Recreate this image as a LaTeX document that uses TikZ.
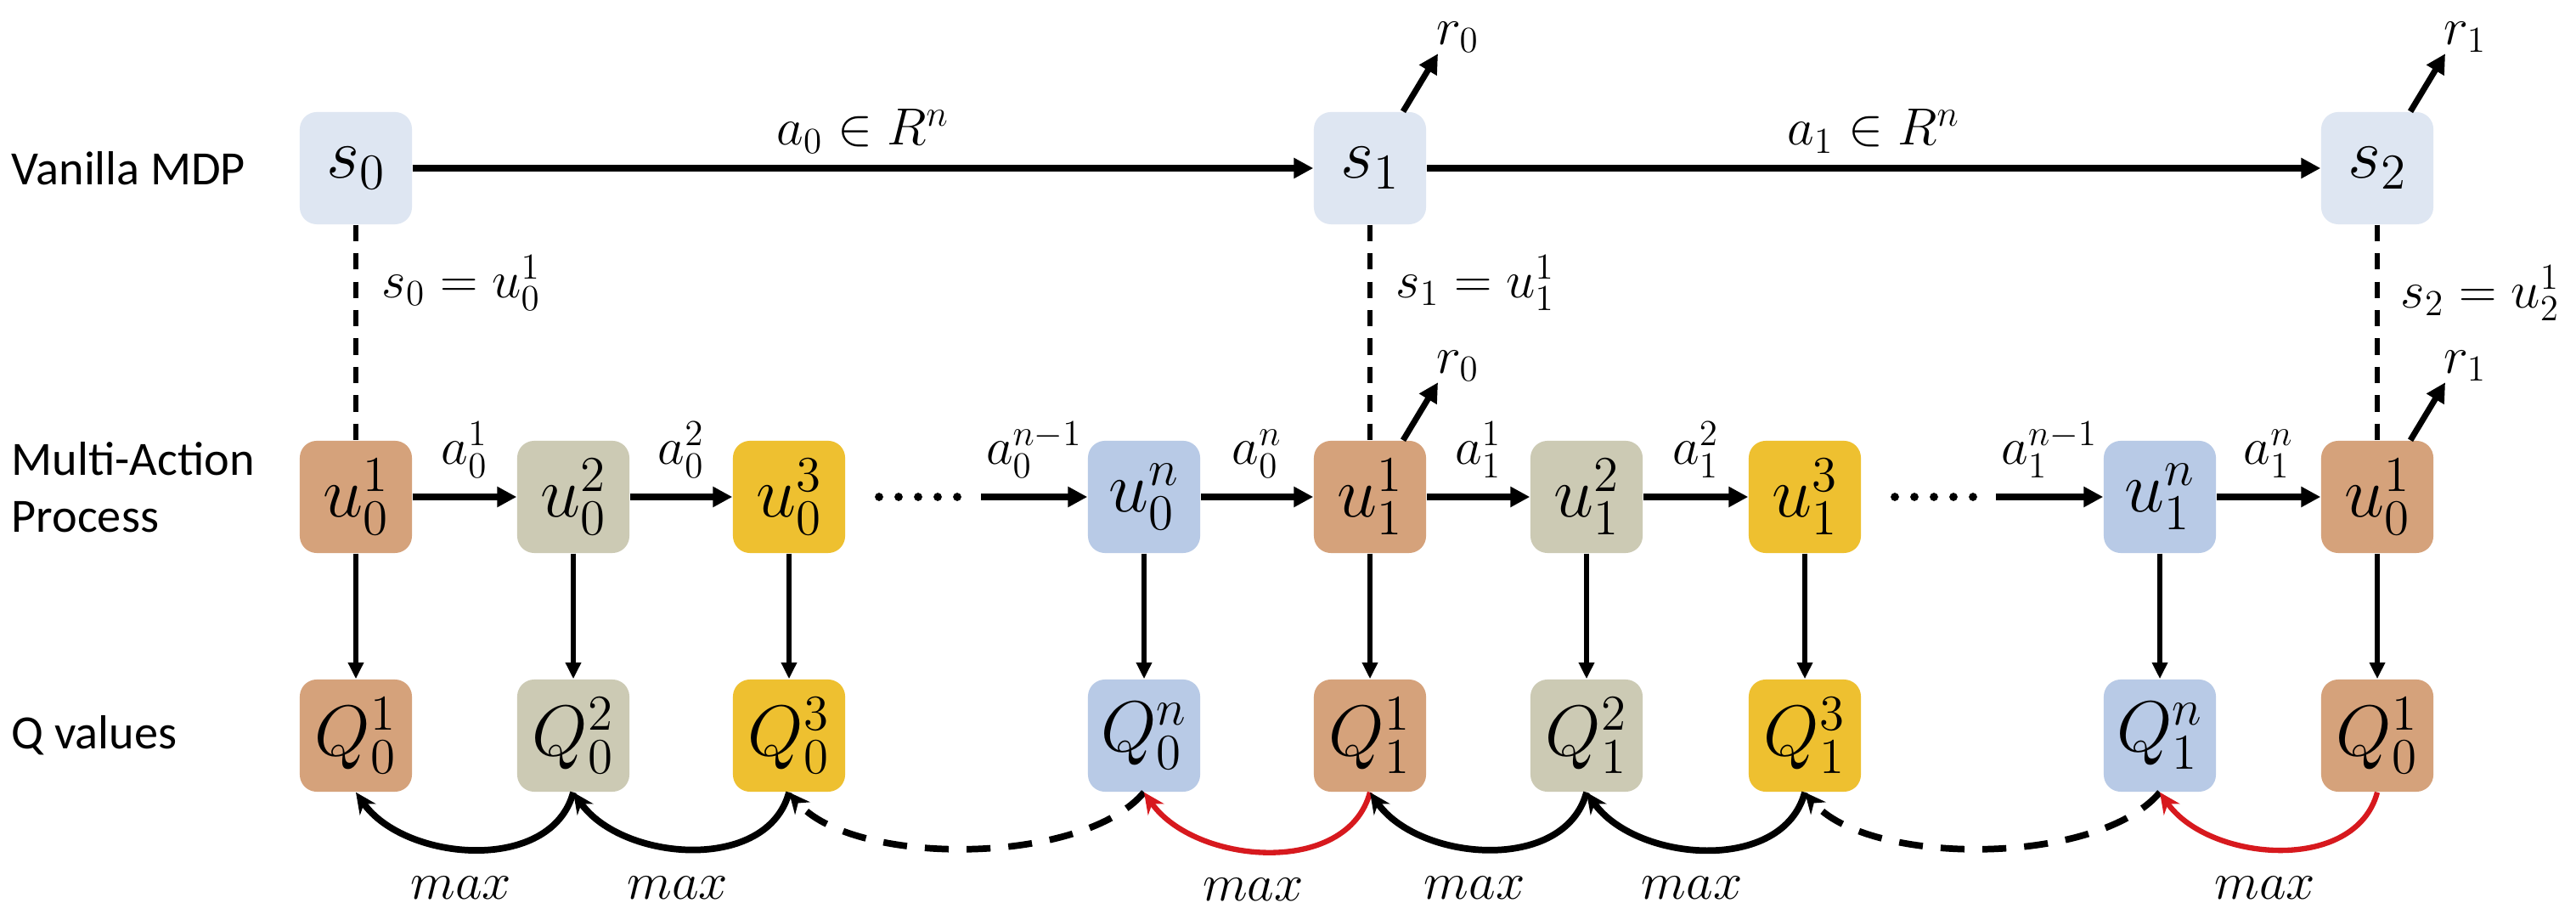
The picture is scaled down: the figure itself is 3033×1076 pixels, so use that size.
\documentclass[tikz,border=0pt]{standalone}
\usepackage{fix-cm}
\usepackage[no-math]{fontspec}
\newfontfamily\labfont{Carlito}
\usetikzlibrary{arrows.meta}
\definecolor{csb}{RGB}{222,230,242}
\definecolor{cbr}{RGB}{213,162,123}
\definecolor{cgr}{RGB}{204,202,180}
\definecolor{cgo}{RGB}{238,192,48}
\definecolor{cbl}{RGB}{184,202,230}
\definecolor{cred}{RGB}{215,25,30}
\tikzset{
  bx/.style={rounded corners=0.2cm, minimum width=1.32cm, minimum height=1.32cm, inner sep=0pt, font=\fontsize{24}{28}\selectfont},
  llab/.style={font=\labfont\fontsize{16}{19}\selectfont, inner sep=0pt, anchor=west, align=left},
  elab/.style={font=\fontsize{17.5}{20}\selectfont, inner sep=0pt},
  mlab/.style={font=\fontsize{17.5}{20}\selectfont, inner sep=0pt},
  harr/.style={line width=2.2pt, -{Triangle[length=6.5pt,width=6.5pt]}},
  varr/.style={line width=1.5pt, -{Triangle[length=5.5pt,width=5pt]}},
  rarr/.style={line width=2pt, -{Triangle[length=6.5pt,width=6.5pt]}},
  vdsh/.style={line width=1.5pt, dash pattern=on 5.5pt off 4pt},
  carc/.style={line width=2.2pt, -{Stealth[length=7pt,width=6.5pt]}},
  rarc/.style={line width=1.8pt, draw=cred, -{Stealth[length=7pt,width=6.5pt]}},
  darc/.style={line width=2.2pt, dash pattern=on 8pt off 6pt, -{Stealth[length=7pt,width=6.5pt]}},
}
\begin{document}
\begin{tikzpicture}[x=0.01cm,y=0.01cm]
\useasboundingbox (0,0) rectangle (3033,1076);
\fill[white] (0,0) rectangle (3033,1076);

% row labels
\node[llab] (lv) at (13,878) {Vanilla MDP};
\node[llab] (lm) at (13,502) {Multi-Action\\Process};
\node[llab] (lq) at (13,210) {Q values};

% top row
\node[bx,fill=csb] (s0) at (419,878) {$s_0$};
\node[bx,fill=csb] (s1) at (1613,878) {$s_1$};
\node[bx,fill=csb] (s2) at (2799,878) {$s_2$};

% middle row
\node[bx,fill=cbr] (u01) at (419,491) {$u_0^1$};
\node[bx,fill=cgr] (u02) at (675,491) {$u_0^2$};
\node[bx,fill=cgo] (u03) at (929,491) {$u_0^3$};
\node[bx,fill=cbl] (u0n) at (1347,491) {$u_0^n$};
\node[bx,fill=cbr] (u11) at (1613,491) {$u_1^1$};
\node[bx,fill=cgr] (u12) at (1868,491) {$u_1^2$};
\node[bx,fill=cgo] (u13) at (2125,491) {$u_1^3$};
\node[bx,fill=cbl] (u1n) at (2543,491) {$u_1^n$};
\node[bx,fill=cbr] (u20) at (2799,491) {$u_0^1$};

% bottom row
\node[bx,fill=cbr] (Q01) at (419,210) {$Q_0^1$};
\node[bx,fill=cgr] (Q02) at (675,210) {$Q_0^2$};
\node[bx,fill=cgo] (Q03) at (929,210) {$Q_0^3$};
\node[bx,fill=cbl] (Q0n) at (1347,210) {$Q_0^n$};
\node[bx,fill=cbr] (Q11) at (1613,210) {$Q_1^1$};
\node[bx,fill=cgr] (Q12) at (1868,210) {$Q_1^2$};
\node[bx,fill=cgo] (Q13) at (2125,210) {$Q_1^3$};
\node[bx,fill=cbl] (Q1n) at (2543,210) {$Q_1^n$};
\node[bx,fill=cbr] (Q20) at (2799,210) {$Q_0^1$};

% top arrows
\draw[harr] (s0) -- (s1) node[elab, midway, anchor=base, yshift=0.27cm] {$a_0 \in R^n$};
\draw[harr] (s1) -- (s2) node[elab, midway, anchor=base, yshift=0.27cm] {$a_1 \in R^n$};

% rewards
\draw[rarr] ([xshift=0.39cm]s1.north) -- ([xshift=0.80cm,yshift=0.68cm]s1.north) node[elab, anchor=south west, xshift=-0.05cm, yshift=-0.02cm] (rt0) {$r_0$};
\draw[rarr] ([xshift=0.39cm]s2.north) -- ([xshift=0.80cm,yshift=0.68cm]s2.north) node[elab, anchor=south west, xshift=-0.05cm, yshift=-0.02cm] (rt1) {$r_1$};
\draw[rarr] ([xshift=0.39cm]u11.north) -- ([xshift=0.80cm,yshift=0.68cm]u11.north) node[elab, anchor=south west, xshift=-0.05cm, yshift=-0.02cm] (rm0) {$r_0$};
\draw[rarr] ([xshift=0.39cm]u20.north) -- ([xshift=0.80cm,yshift=0.68cm]u20.north) node[elab, anchor=south west, xshift=-0.05cm, yshift=-0.02cm] (rm1) {$r_1$};

% dashed correspondences
\draw[vdsh] (s0.south) -- (u01.north);
\draw[vdsh] (s1.south) -- (u11.north);
\draw[vdsh] (s2.south) -- (u20.north);
\node[elab, anchor=west] (e0) at (449,743) {$s_0 = u_0^1$};
\node[elab, anchor=west] (e1) at (1643,743) {$s_1 = u_1^1$};
\node[elab, anchor=west] (e2) at (2826,731) {$s_2 = u_2^1$};

% middle arrows
\draw[harr] (u01) -- (u02) node[elab, midway, anchor=base, yshift=0.38cm] {$a_0^1$};
\draw[harr] (u02) -- (u03) node[elab, midway, anchor=base, yshift=0.38cm] {$a_0^2$};
\coordinate (d1) at (1155,491);
\draw[harr] (d1) -- (u0n) node[elab, midway, anchor=base, yshift=0.38cm] {$a_0^{n-1}$};
\draw[harr] (u0n) -- (u11) node[elab, midway, anchor=base, yshift=0.38cm] {$a_0^n$};
\draw[harr] (u11) -- (u12) node[elab, midway, anchor=base, yshift=0.38cm] {$a_1^1$};
\draw[harr] (u12) -- (u13) node[elab, midway, anchor=base, yshift=0.38cm] {$a_1^2$};
\coordinate (d2) at (2350,491);
\draw[harr] (d2) -- (u1n) node[elab, midway, anchor=base, yshift=0.38cm] {$a_1^{n-1}$};
\draw[harr] (u1n) -- (u20) node[elab, midway, anchor=base, yshift=0.38cm] {$a_1^n$};

% dots
\foreach \i in {0,...,4} {
  \fill[rounded corners=1.5] (1030+23*\i,486) rectangle ++(10,10);
  \fill[rounded corners=1.5] (2226+23*\i,486) rectangle ++(10,10);
}

% vertical arrows
\foreach \a/\b in {u01/Q01,u02/Q02,u03/Q03,u0n/Q0n,u11/Q11,u12/Q12,u13/Q13,u1n/Q1n,u20/Q20}
  \draw[varr] (\a) -- (\b);

% max arcs
\draw[carc] (Q02.south) to[out=-105,in=-55] node[mlab, pos=0.55, below=0.3cm] {$max$} (Q01.south);
\draw[carc] (Q03.south) to[out=-105,in=-55] node[mlab, pos=0.55, below=0.3cm] {$max$} (Q02.south);
\draw[darc] (Q0n.south) to[out=-130,in=-50,looseness=0.7] (Q03.south);
\draw[rarc] (Q11.south) to[out=-105,in=-55] node[mlab, pos=0.55, below=0.3cm, text=black] {$max$} (Q0n.south);
\draw[carc] (Q12.south) to[out=-105,in=-55] node[mlab, pos=0.55, below=0.3cm] {$max$} (Q11.south);
\draw[carc] (Q13.south) to[out=-105,in=-55] node[mlab, pos=0.55, below=0.3cm] {$max$} (Q12.south);
\draw[darc] (Q1n.south) to[out=-130,in=-50,looseness=0.7] (Q13.south);
\draw[rarc] (Q20.south) to[out=-105,in=-55] node[mlab, pos=0.55, below=0.3cm, text=black] {$max$} (Q1n.south);
\end{tikzpicture}
\end{document}
